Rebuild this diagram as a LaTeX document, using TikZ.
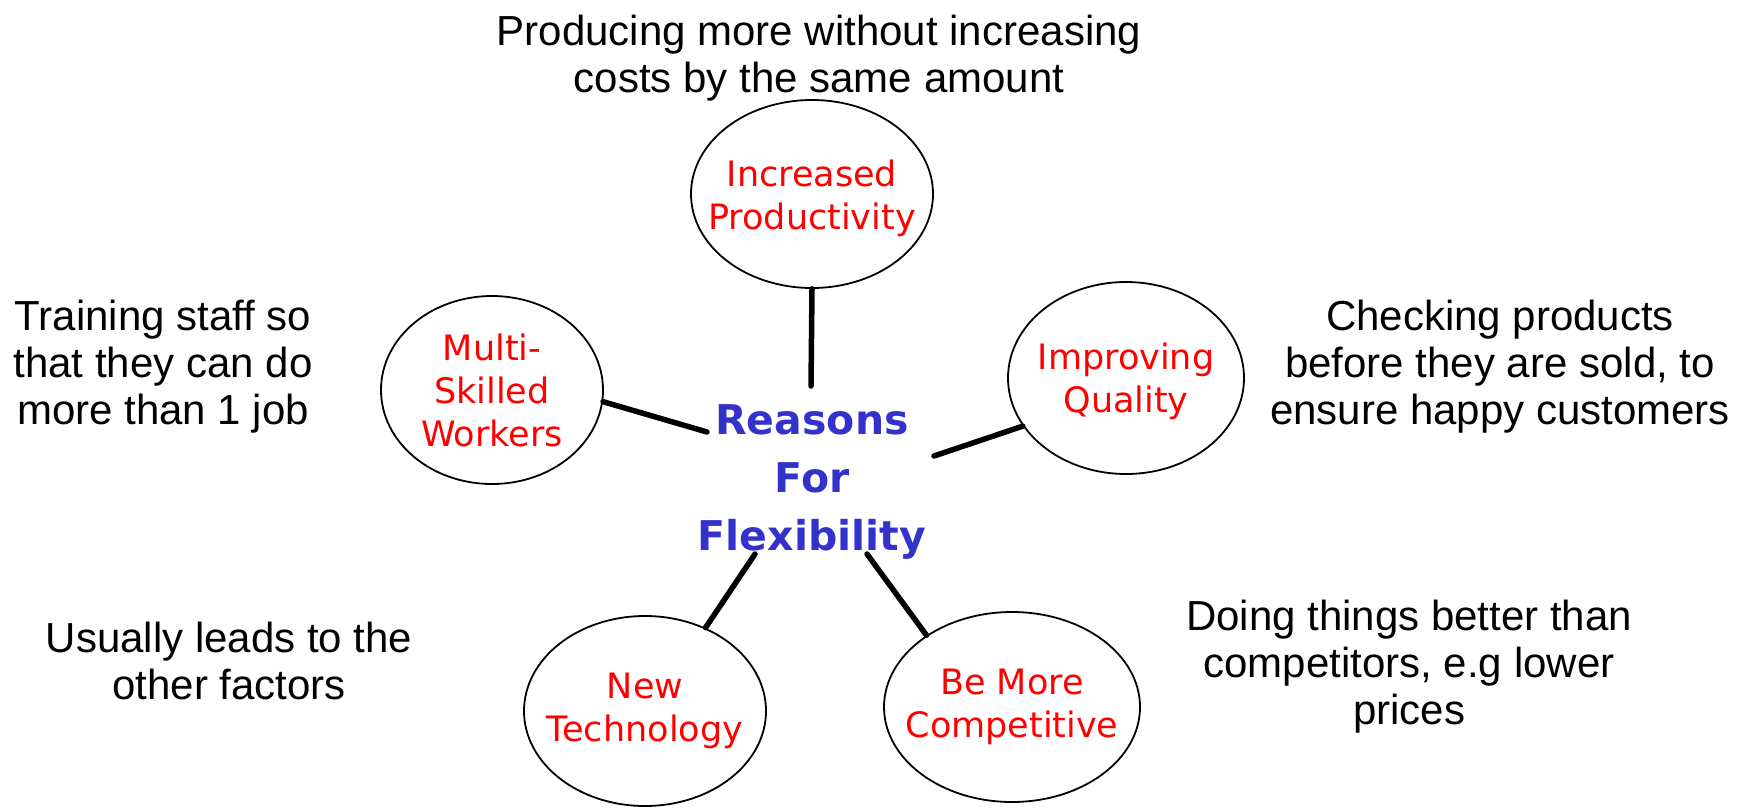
\documentclass[tikz,border=0pt]{standalone}
\usepackage{fontspec}
\usetikzlibrary{shapes.geometric}
\setmainfont{Liberation Sans}
\newfontfamily\bubblefont{DejaVu Sans}
\definecolor{flexblue}{RGB}{51,51,204}
\tikzset{
  bubble/.style={draw=black, line width=1.8pt, ellipse, inner sep=0pt},
  redtxt/.style={text=red, font=\bubblefont\fontsize{35}{43}\selectfont, align=center},
  note/.style={text=black, font=\fontsize{42}{47}\selectfont, align=center},
  centretxt/.style={text=flexblue, font=\bubblefont\bfseries\fontsize{41}{58}\selectfont, align=center},
  link/.style={draw=black, line width=5.5pt, line cap=round}
}
\begin{document}
\begin{tikzpicture}[x=1pt,y=-1pt]
\useasboundingbox (0,0) rectangle (1747,808);
% bubbles
\node[bubble, minimum width=242pt, minimum height=188pt,
  label={[redtxt,yshift=-4pt]center:Increased\\Productivity}] (ip) at (812,194) {};
\node[bubble, minimum width=222pt, minimum height=188pt,
  label={[redtxt]center:Multi-\\Skilled\\Workers}] (mw) at (492,390) {};
\node[bubble, minimum width=236pt, minimum height=192pt,
  label={[redtxt,yshift=-3pt]center:Improving\\Quality}] (iq) at (1126,378) {};
\node[bubble, minimum width=242pt, minimum height=190pt,
  label={[redtxt]center:New\\Technology}] (nt) at (645,711) {};
\node[bubble, minimum width=256pt, minimum height=190pt,
  label={[redtxt]center:Be More\\Competitive}] (bc) at (1012,707) {};
% centre
\node[centretxt] (rf) at (812,482) {Reasons\\For\\Flexibility};
% notes
\node[note] (tip) at (819,58) {Producing more without increasing\\costs by the same amount};
\node[note] (tmw) at (163,367) {Training staff so\\that they can do\\more than 1 job};
\node[note] (tiq) at (1500,367) {Checking products\\before they are sold, to\\ensure happy customers};
\node[note] (tnt) at (229,661) {Usually leads to the\\other factors};
\node[note] (tbc) at (1409,667) {Doing things better than\\competitors, e.g lower\\prices};
% free ends of connectors near the centre text
\coordinate (c1) at (811,386);
\coordinate (c2) at (707,432);
\coordinate (c3) at (934,456);
\coordinate (c4) at (755,554);
\coordinate (c5) at (867,554);
% connectors
\draw[link] (ip.-90) -- (c1);
\draw[link] (mw.-6) -- (c2);
\draw[link] (iq.205) -- (c3);
\draw[link] (nt.54) -- (c4);
\draw[link] (bc.140) -- (c5);
\end{tikzpicture}
\end{document}
